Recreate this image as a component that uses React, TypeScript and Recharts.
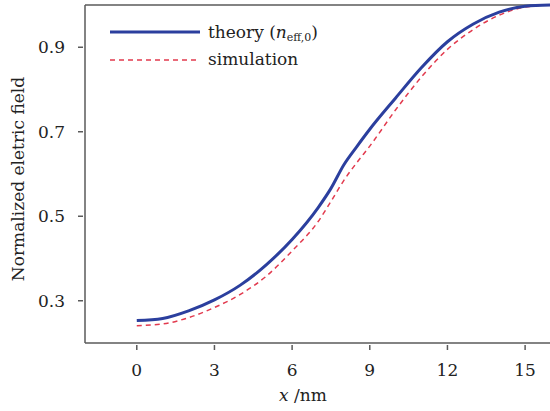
import React from 'react'
import { LineChart, Line, XAxis, YAxis, ReferenceLine } from 'recharts'

const xs = [0, 1, 2, 3, 4, 5, 6, 7, 7.5, 8, 8.5, 9, 10, 11, 12, 13, 14, 15, 16]
const theory = [0.253, 0.258, 0.276, 0.302, 0.337, 0.385, 0.445, 0.52, 0.566, 0.622, 0.665, 0.706, 0.78, 0.852, 0.913, 0.955, 0.983, 0.997, 1.0]
const simulation = [0.241, 0.245, 0.26, 0.284, 0.315, 0.358, 0.418, 0.487, 0.535, 0.585, 0.627, 0.666, 0.752, 0.83, 0.895, 0.942, 0.976, 0.995, 1.0]
const xTicks = [0, 3, 6, 9, 12, 15]
const yTicks = [0.3, 0.5, 0.7, 0.9]

const data = xs.map((x, i) => ({ x, theory: theory[i], simulation: simulation[i] }))

const FONT = "'DejaVu Serif', serif"
const AXIS = '#5a5a5a'
const BLUE = '#2b3f9e'
const RED = '#e23a4e'
const txt = { fontFamily: FONT }

function XTick({ x, y, payload }: any) {
  return (
    <g>
      <line x1={x} x2={x} y1={y - 1} y2={y - 6} stroke={AXIS} strokeWidth={1.5} />
      <text x={x} y={y + 25} textAnchor="middle" style={txt} fontSize={17} fill="#222">
        {payload.value}
      </text>
    </g>
  )
}

function YTick({ x, y, payload }: any) {
  return (
    <g>
      <line x1={x + 1} x2={x + 6} y1={y} y2={y} stroke={AXIS} strokeWidth={1.5} />
      <text x={x - 12} y={y + 6} textAnchor="end" style={txt} fontSize={17} fill="#222">
        {payload.value.toFixed(1)}
      </text>
    </g>
  )
}

function XLabel({ viewBox }: any) {
  const cx = viewBox.x + viewBox.width / 2 - 15
  return (
    <text x={cx} y={viewBox.y + 58} textAnchor="middle" style={txt} fontSize={17} fill="#222">
      <tspan fontStyle="italic">x</tspan> /nm
    </text>
  )
}

function YLabel({ viewBox }: any) {
  const cy = viewBox.y + viewBox.height / 2 + 5
  return (
    <text x={24} y={cy} textAnchor="middle" transform={`rotate(-90 24 ${cy})`} style={txt} fontSize={17} fill="#222">
      Normalized eletric field
    </text>
  )
}

function LegendBox() {
  return (
    <svg width={260} height={50} style={{ position: 'absolute', left: 110, top: 18 }}>
      <line x1={0} x2={90} y1={14} y2={14} stroke={BLUE} strokeWidth={3} />
      <text x={98} y={20} style={txt} fontSize={17} fill="#222">
        theory (<tspan fontStyle="italic">n</tspan>
        <tspan fontSize={11} dy={3}>eff,0</tspan>
        <tspan dy={-3}>)</tspan>
      </text>
      <line x1={0} x2={90} y1={42} y2={42} stroke={RED} strokeWidth={1.5} strokeDasharray="5 4" />
      <text x={98} y={47} style={txt} fontSize={17} fill="#222">
        simulation
      </text>
    </svg>
  )
}

export default function App() {
  return (
    <div style={{ position: 'absolute', left: 0, top: 0, width: 550, height: 411, overflow: 'hidden', background: '#fff' }}>
      <LineChart width={552} height={411} data={data} margin={{ top: 5, right: 1, left: 0, bottom: 0 }}>
        <XAxis
          dataKey="x"
          type="number"
          domain={[-2, 16]}
          ticks={xTicks}
          tick={<XTick />}
          tickLine={false}
          axisLine={{ stroke: AXIS, strokeWidth: 1.5 }}
          height={68}
          label={<XLabel />}
        />
        <YAxis
          type="number"
          domain={[0.2, 1.0]}
          ticks={yTicks}
          tick={<YTick />}
          tickLine={false}
          axisLine={{ stroke: AXIS, strokeWidth: 1.5 }}
          width={85}
          label={<YLabel />}
        />
        <ReferenceLine y={1.0} stroke={AXIS} strokeWidth={1.5} />
        <Line type="monotone" dataKey="simulation" stroke={RED} strokeWidth={1.5} strokeDasharray="5 4" dot={false} isAnimationActive={false} />
        <Line type="monotone" dataKey="theory" stroke={BLUE} strokeWidth={3} dot={false} isAnimationActive={false} />
      </LineChart>
      <LegendBox />
    </div>
  )
}
